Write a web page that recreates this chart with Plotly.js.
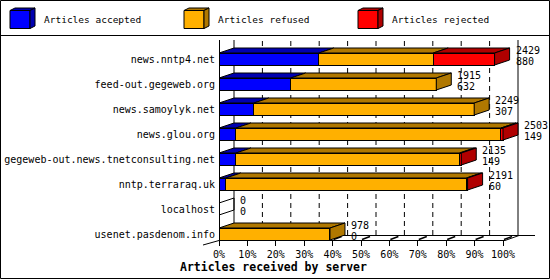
<!DOCTYPE html>
<html>
<head>
<meta charset="utf-8">
<script src="https://cdn.plot.ly/plotly-3.0.1.min.js"></script>
<style>html,body{margin:0;padding:0;background:#fff;}#chart{width:550px;height:280px;}</style>
</head>
<body>
<div id="chart"></div>
<script>
// ---- data ----
const servers = ['news.nntp4.net','feed-out.gegeweb.org','news.samoylyk.net','news.glou.org',
  'gegeweb-out.news.tnetconsulting.net','nntp.terraraq.uk','localhost','usenet.pasdenom.info'];
const totals   = [2429, 1915, 2249, 2503, 2135, 2191, 0, 978];
const accepted = [880, 632, 307, 149, 149, 60, 0, 0];
const refused  = [1008, 1283, 1942, 2336, 1971, 2121, 0, 978];
const rejected = [541, 0, 0, 18, 15, 10, 0, 0];
const seriesNames = ['Articles accepted', 'Articles refused', 'Articles rejected'];
const tickPercents = [0,10,20,30,40,50,60,70,80,90,100];

// ---- styling / geometry ----
const front = ['#0000FF', '#FFB000', '#FF0000'];
const dark  = ['#0000B0', '#B07800', '#B00000'];
const FONT = 'DejaVu Sans Mono, monospace';
const mL = 219, mT = 40, plotW = 300, plotH = 200, W = 550, H = 280;
const PXMAX = 284;           // pixels spanned by the largest total
const DEPTH_X = 15, DEPTH_Y = 5, ROW_PX = 25;
const maxTotal = Math.max(...totals);
const dx = maxTotal * DEPTH_X / PXMAX;
const dy = DEPTH_Y / ROW_PX;
const barW = 0.48;
const idx = servers.map((s, i) => i);
const P = px => (px - mL) / plotW;
const Q = py => (mT + plotH - py) / plotH;

const series = [accepted, refused, rejected];
const traces = series.map((vals, k) => ({
  type: 'bar', orientation: 'h', y: idx, x: vals.map(v => v === 0 ? null : v),
  width: barW, name: seriesNames[k], showlegend: false, hoverinfo: 'skip',
  marker: {color: front[k], line: {color: '#000', width: 1}}
}));

// 3D faces built from the same values
idx.forEach(i => {
  const yt = i - barW / 2, yb = i + barW / 2;
  let cum = 0, last = -1, lastEnd = 0;
  series.forEach((vals, k) => {
    const v = vals[i];
    if (v > 0) {
      const a = cum, b = cum + v;
      traces.push({type: 'scatter', mode: 'lines', fill: 'toself', fillcolor: dark[k],
        line: {color: '#000', width: 1}, hoverinfo: 'skip', showlegend: false,
        x: [a, b, b + dx, a + dx, a], y: [yt, yt, yt - dy, yt - dy, yt]});
      last = k; lastEnd = b;
    }
    cum += v;
  });
  const sideX = [lastEnd, lastEnd + dx, lastEnd + dx, lastEnd, lastEnd];
  const sideY = [yt, yt - dy, yb - dy, yb, yt];
  if (last >= 0) {
    traces.push({type: 'scatter', mode: 'lines', fill: 'toself', fillcolor: dark[last],
      line: {color: '#000', width: 1}, hoverinfo: 'skip', showlegend: false, x: sideX, y: sideY});
  } else {
    traces.push({type: 'scatter', mode: 'lines', line: {color: '#000', width: 1},
      hoverinfo: 'skip', showlegend: false, x: sideX, y: sideY});
  }
});

const shapes = [];
const tickVals = tickPercents.map(p => maxTotal * p / 100);
// back wall dashed grid
tickVals.forEach((v, k) => {
  const inner = k > 0 && k < tickVals.length - 1;
  shapes.push({type: 'line', layer: 'below', xref: 'x', xsizemode: 'pixel', xanchor: v,
    x0: DEPTH_X, x1: DEPTH_X, yref: 'paper', y0: Q(235), y1: 1,
    line: {color: '#000', width: 1, dash: inner ? '5px,4px' : 'solid'}});
  // floor slant marks
  if (k > 0) shapes.push({type: 'line', layer: 'below', xref: 'x', xsizemode: 'pixel', xanchor: v,
    x0: 1, x1: 9, yref: 'paper', y0: Q(239.5), y1: Q(236.5), line: {color: '#000', width: 1.5}});
});
const L = (x0, y0, x1, y1) => shapes.push({type: 'line', xref: 'paper', yref: 'paper', layer: 'below',
  x0: P(x0), y0: Q(y0), x1: P(x1), y1: Q(y1), line: {color: '#000', width: 1}});
L(219.5, 40, 219.5, 245);   // left front edge
L(219, 240.5, 505, 240.5);  // front floor
L(505, 240.5, 519, 235.5);
L(233, 235.5, 535, 235.5);  // back floor
L(203, 245, 219, 240.5);
// frame and legend separator
shapes.push({type: 'rect', xref: 'paper', yref: 'paper', x0: P(0.5), x1: P(549.5), y0: Q(0.5), y1: Q(278.5),
  line: {color: '#000', width: 1}, fillcolor: 'rgba(0,0,0,0)'});
L(0, 35.5, 550, 35.5);

// legend cubes
const legX = [10, 184, 358], legTextX = [42, 216, 390];
const annotations = [];
legX.forEach((x, k) => {
  const poly = (pts, c) => shapes.push({type: 'path', xref: 'paper', yref: 'paper', fillcolor: c,
    line: {color: '#000', width: 1},
    path: 'M' + pts.map(p => P(p[0]) + ',' + Q(p[1])).join('L') + 'Z'});
  poly([[x, 10.5], [x + 20, 10.5], [x + 20, 28.5], [x, 28.5]], front[k]);
  poly([[x, 10.5], [x + 5, 8], [x + 25, 8], [x + 20, 10.5]], dark[k]);
  poly([[x + 20, 10.5], [x + 25, 8], [x + 25, 26], [x + 20, 28.5]], dark[k]);
  annotations.push({xref: 'paper', yref: 'paper', x: P(legTextX[k]), y: Q(20), xanchor: 'left', yanchor: 'middle',
    text: seriesNames[k], showarrow: false, font: {family: FONT, size: 9.5, color: '#000'}});
});

// value labels
idx.forEach(i => {
  annotations.push({xref: 'x', yref: 'y', x: totals[i], y: i, xanchor: 'left', yanchor: 'middle',
    xshift: DEPTH_X + 4, yshift: 8.5, text: String(totals[i]), showarrow: false,
    font: {family: FONT, size: 10, color: '#000'}});
  annotations.push({xref: 'x', yref: 'y', x: totals[i], y: i, xanchor: 'left', yanchor: 'middle',
    xshift: DEPTH_X + 4, yshift: -2.5, text: String(accepted[i]), showarrow: false,
    font: {family: FONT, size: 10, color: '#000'}});
});
annotations.push({xref: 'paper', yref: 'paper', x: P(273), y: Q(267), xanchor: 'center', yanchor: 'middle',
  text: '<b>Articles received by server</b>', showarrow: false,
  font: {family: FONT, size: 11.5, color: '#000'}});

const layout = {
  width: W, height: H, margin: {l: mL, r: W - mL - plotW, t: mT, b: H - mT - plotH, pad: 0},
  paper_bgcolor: '#fff', plot_bgcolor: 'rgba(0,0,0,0)', barmode: 'stack', showlegend: false,
  xaxis: {range: [0, maxTotal * plotW / PXMAX], tickvals: tickVals, ticktext: tickPercents.map(p => p + '%'),
    ticks: 'outside', ticklen: 5, tickcolor: '#000', showgrid: false, zeroline: false, showline: false,
    tickfont: {family: FONT, size: 10, color: '#000'}, fixedrange: true},
  yaxis: {range: [7.24, -0.76], tickvals: idx, ticktext: servers, ticks: '', showgrid: false,
    zeroline: false, showline: false, ticklabelstandoff: 3,
    tickfont: {family: FONT, size: 10, color: '#000'}, fixedrange: true},
  shapes: shapes, annotations: annotations
};
Plotly.newPlot('chart', traces, layout, {staticPlot: true, displayModeBar: false});
</script>
</body>
</html>
